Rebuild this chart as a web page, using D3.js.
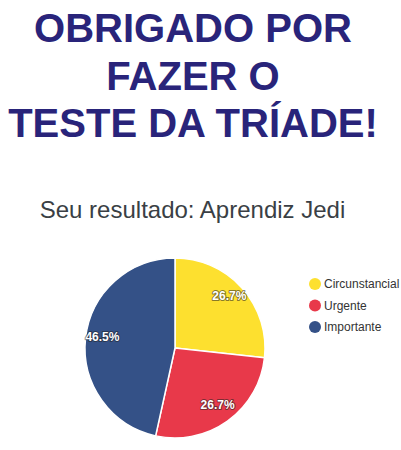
<!DOCTYPE html>
<html>
<head>
<meta charset="utf-8">
<script src="https://cdn.jsdelivr.net/npm/d3@7"></script>
<style>
html,body{margin:0;padding:0;background:#fff;}
svg{display:block;}
</style>
</head>
<body>
<svg id="chart" width="401" height="450"></svg>
<script>
const titleLines = ["OBRIGADO POR", "FAZER O", "TESTE DA TRÍADE!"];
const subtitle = "Seu resultado: Aprendiz Jedi";
const categories = ["Circunstancial", "Urgente", "Importante"];
const values = [26.7, 26.7, 46.5];
const labels = ["26.7%", "26.7%", "46.5%"];
const colors = ["#fde02f", "#e8394a", "#345187"];

const svg = d3.select("#chart");

svg.selectAll("text.title").data(titleLines).enter().append("text")
  .attr("class", "title")
  .attr("x", 193)
  .attr("y", (d, i) => 42 + i * 47.5)
  .attr("text-anchor", "middle")
  .style("font-family", "'Liberation Sans', Arial, sans-serif")
  .style("font-weight", "bold")
  .style("font-size", "40px")
  .style("fill", "#29247a")
  .text(d => d);

svg.append("text")
  .attr("x", 192.5).attr("y", 218)
  .attr("text-anchor", "middle")
  .style("font-family", "'Liberation Sans', Arial, sans-serif")
  .style("font-size", "24px")
  .style("fill", "#3a3f45")
  .text(subtitle);

const cx = 175, cy = 348, r = 90;
const pie = d3.pie().sort(null).value(d => d);
const arcs = pie(values);
const arc = d3.arc().innerRadius(0).outerRadius(r);
const labelArc = d3.arc().innerRadius(73).outerRadius(73);

const g = svg.append("g").attr("transform", `translate(${cx},${cy})`);
g.selectAll("path").data(arcs).enter().append("path")
  .attr("d", arc)
  .attr("fill", (d, i) => colors[i])
  .attr("stroke", "#fff")
  .attr("stroke-width", 1.5)
  .attr("stroke-linejoin", "round");

g.selectAll("text.lbl").data(arcs).enter().append("text")
  .attr("class", "lbl")
  .attr("transform", d => `translate(${labelArc.centroid(d)})`)
  .attr("dy", "0.1em")
  .attr("text-anchor", "middle")
  .style("font-family", "'Liberation Sans', Arial, sans-serif")
  .style("font-weight", "bold")
  .style("font-size", "12px")
  .style("fill", "#fff")
  .style("stroke", "#222")
  .style("stroke-width", "2px")
  .style("stroke-opacity", "0.55")
  .style("stroke-linejoin", "round")
  .style("paint-order", "stroke")
  .text((d, i) => labels[i]);

const legend = svg.append("g");
const items = legend.selectAll("g").data(categories).enter().append("g")
  .attr("transform", (d, i) => `translate(315,${284 + i * 21.5})`);
items.append("circle").attr("r", 6).attr("fill", (d, i) => colors[i]);
items.append("text")
  .attr("x", 9).attr("dy", "0.35em")
  .style("font-family", "'Liberation Sans', Arial, sans-serif")
  .style("font-size", "12px")
  .style("fill", "#333")
  .text(d => d);
</script>
</body>
</html>
